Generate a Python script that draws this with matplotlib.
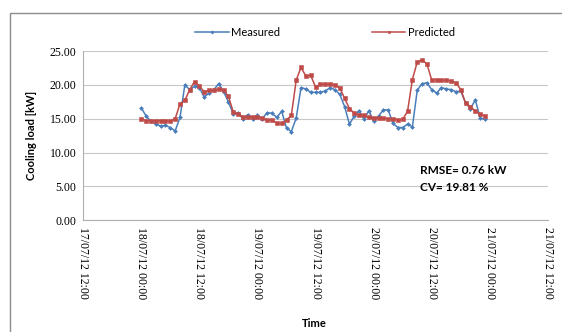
import pandas as pd
import matplotlib
matplotlib.use('Agg')
import matplotlib.pyplot as plt
import matplotlib.dates as mdates
from matplotlib.patches import Rectangle

# hourly cooling load, 18/07/12 00:00 .. 20/07/12 23:00
measured = [16.6, 15.4, 14.6, 14.2, 13.9, 14.0, 13.7, 13.2, 15.2, 20.0, 19.3, 19.8,
            19.6, 18.2, 18.8, 19.3, 20.2, 19.0, 17.5, 15.7, 15.8, 15.0, 15.6, 15.0,
            15.5, 15.0, 15.9, 15.8, 15.2, 16.1, 13.6, 13.1, 15.1, 19.6, 19.4, 18.9,
            18.9, 18.9, 19.1, 19.6, 19.3, 18.6, 16.8, 14.2, 15.4, 16.2, 14.9, 16.2,
            14.6, 15.4, 16.3, 16.3, 14.3, 13.7, 13.7, 14.2, 13.8, 19.2, 20.2, 20.3,
            19.3, 18.8, 19.6, 19.4, 19.3, 19.0, 19.1, 17.3, 16.5, 17.8, 15.1, 14.9]
predicted = [15.0, 14.7, 14.7, 14.7, 14.7, 14.7, 14.6, 15.0, 17.2, 17.7, 19.3, 20.5,
             19.8, 19.0, 19.2, 19.2, 19.4, 19.2, 18.3, 16.0, 15.7, 15.3, 15.2, 15.3,
             15.2, 15.1, 14.8, 14.8, 14.3, 14.3, 14.8, 15.5, 20.7, 22.6, 21.3, 21.4,
             19.7, 20.1, 20.1, 20.1, 20.0, 19.6, 18.0, 16.5, 15.8, 15.5, 15.5, 15.2,
             15.1, 15.1, 15.1, 15.0, 15.0, 14.8, 14.9, 16.1, 20.8, 23.4, 23.7, 23.1,
             20.7, 20.8, 20.7, 20.7, 20.6, 20.3, 19.3, 17.3, 16.8, 16.1, 15.7, 15.4]
start_time = '2012-07-18 00:00'
x_start = '2012-07-17 12:00'
x_end = '2012-07-21 12:00'
rmse_text = 'RMSE= 0.76 kW'
cv_text = 'CV= 19.81 %'

times = pd.date_range(start_time, periods=len(measured), freq='h')

fig = plt.figure(figsize=(5.62, 3.32), dpi=100)
# chart border like the spreadsheet frame
fig.patches.append(Rectangle((10 / 562, -0.05), 1.0, 1 - 13 / 332 + 0.05,
                             transform=fig.transFigure, fill=False,
                             edgecolor='#8c8c8c', linewidth=1.0))

ax = fig.add_axes([0.148, 0.337, 0.827, 0.509])

ax.plot(times, measured, color='#4a7ebb', linewidth=1.1, marker='D',
        markersize=2.0, markeredgewidth=0.4, label='Measured')
ax.plot(times, predicted, color='#be4b48', linewidth=1.1, marker='s',
        markersize=2.5, markeredgewidth=0.4, label='Predicted')

ax.set_ylim(0, 25)
ax.set_yticks([0, 5, 10, 15, 20, 25])
ax.set_yticklabels(['%.2f' % v for v in [0, 5, 10, 15, 20, 25]],
                   family='Liberation Serif', fontsize=8.5)
ax.set_xlim(pd.Timestamp(x_start), pd.Timestamp(x_end))
ax.xaxis.set_major_locator(mdates.HourLocator(byhour=[0, 12]))
ax.xaxis.set_major_formatter(mdates.DateFormatter('%d/%m/%y %H:%M'))
for lab in ax.get_xticklabels():
    lab.set_rotation(-90)
    lab.set_family('Liberation Serif')
    lab.set_fontsize(8.5)

ax.tick_params(length=0, pad=5)
ax.grid(axis='y', color='#c8c8c8', linewidth=0.8)
for s in ['top', 'right']:
    ax.spines[s].set_visible(False)
ax.spines['left'].set_color('#b0b0b0')
ax.spines['bottom'].set_color('#b0b0b0')

ax.set_ylabel('Cooling load [kW]', family='Lato', fontweight='bold', fontsize=8)
ax.yaxis.set_label_coords(-0.1, 0.5)
fig.text(0.56, 0.027, 'Time', family='Lato', fontweight='bold', fontsize=8,
         ha='center', va='center')

ax.legend(loc='lower center', bbox_to_anchor=(0.52, 1.02), ncol=2, frameon=False,
          prop={'family': 'Lato', 'size': 8}, columnspacing=8.3, handlelength=3.0,
          handletextpad=0.2, markerscale=0.8)

ax.text(0.725, 0.27, rmse_text, transform=ax.transAxes, family='Lato',
        fontweight='bold', fontsize=8.5)
ax.text(0.725, 0.175, cv_text, transform=ax.transAxes, family='Lato',
        fontweight='bold', fontsize=8.5)

fig.savefig('out.png', dpi=100)
